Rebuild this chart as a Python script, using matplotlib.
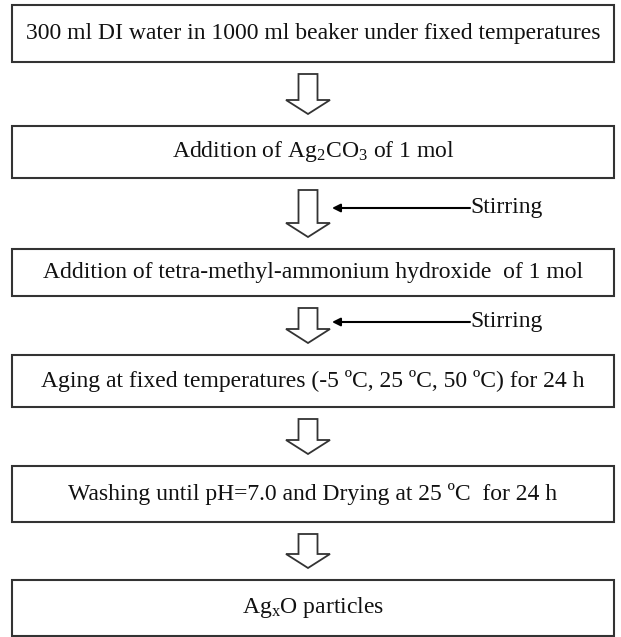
import matplotlib
matplotlib.use("Agg")
import matplotlib.pyplot as plt
from matplotlib.patches import Rectangle, FancyArrow

plt.rcParams["font.family"] = ["Liberation Serif", "DejaVu Serif"]
plt.rcParams["mathtext.fontset"] = "custom"
plt.rcParams["mathtext.rm"] = "Liberation Serif"
plt.rcParams["mathtext.it"] = "Liberation Serif:italic"

# flow steps, top to bottom
STEPS = [
    "300 ml DI water in 1000 ml beaker under fixed temperatures",
    r"Addition of Ag$_\mathregular{2}$CO$_\mathregular{3}$ of 1 mol",
    "Addition of tetra-methyl-ammonium hydroxide  of 1 mol",
    "Aging at fixed temperatures (-5 \u00baC, 25 \u00baC, 50 \u00baC) for 24 h",
    "Washing until pH=7.0 and Drying at 25 \u00baC  for 24 h",
    r"Ag$_\mathregular{x}$O particles",
]
# side input feeding each arrow (None = no side input)
SIDE_LABELS = [None, "Stirring", "Stirring", None, None]

# layout (pixels, y downward)
W, H = 621, 637
BOX_X0, BOX_X1 = 12, 614
BOX_TOP = [5, 126, 249, 355, 466, 580]
BOX_BOT = [62, 178, 296, 407, 522, 636]
SIDE_Y = [None, 208, 322, None, None]
ARROW_X = 308

fig = plt.figure(figsize=(W / 100, H / 100), dpi=100)
ax = fig.add_axes([0, 0, 1, 1])
ax.set_xlim(0, W)
ax.set_ylim(H, 0)
ax.axis("off")

edge = "#333333"
for label, top, bot in zip(STEPS, BOX_TOP, BOX_BOT):
    ax.add_patch(Rectangle((BOX_X0, top), BOX_X1 - BOX_X0, bot - top,
                           fill=False, edgecolor=edge, linewidth=1.5))
    ax.text((BOX_X0 + BOX_X1) / 2, (top + bot) / 2, label,
            ha="center", va="center", fontsize=17, color="#111111")

for i, side in enumerate(SIDE_LABELS):
    y0 = BOX_BOT[i] + 12
    y1 = BOX_TOP[i + 1] - 12
    ax.add_patch(FancyArrow(ARROW_X, y0, 0, y1 - y0, width=19, head_width=44,
                            head_length=14, length_includes_head=True,
                            facecolor="white", edgecolor=edge, linewidth=1.3))
    if side:
        ym = SIDE_Y[i]
        ax.annotate("", xy=(ARROW_X + 24, ym), xytext=(470, ym),
                    arrowprops=dict(arrowstyle="-|>", color="black", lw=1.5,
                                    mutation_scale=12, shrinkA=0, shrinkB=0))
        ax.text(470, ym, side, ha="left", va="center", fontsize=17,
                color="#111111")

fig.savefig("out.png", dpi=100)
